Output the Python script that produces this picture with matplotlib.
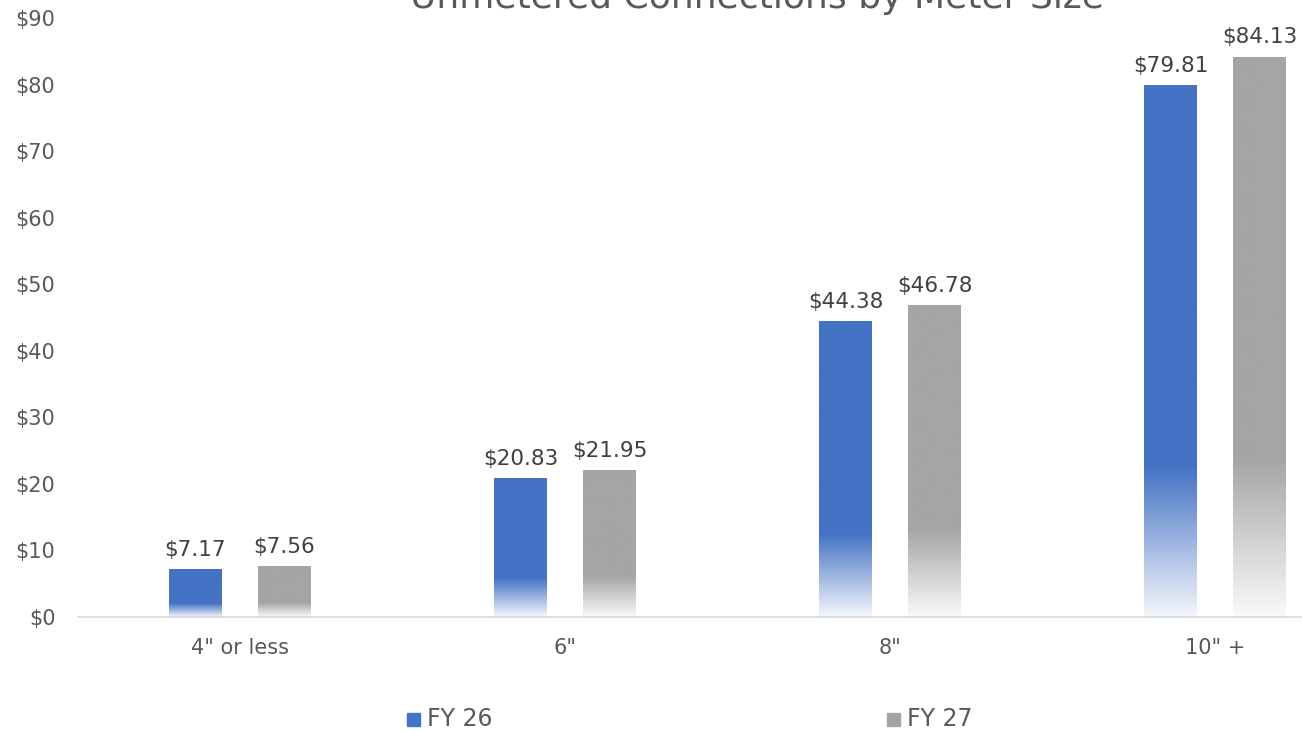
import numpy as np
import matplotlib
matplotlib.use('Agg')
from matplotlib import pyplot as plt
from matplotlib.colors import to_rgb

plt.rcParams['font.family'] = ['DejaVu Sans']

categories = ['4" or less', '6"', '8"', '10" +']
fy26 = [7.17, 20.83, 44.38, 79.81]
fy27 = [7.56, 21.95, 46.78, 84.13]
series_names = ['FY 26', 'FY 27']
colors = ['#4472C4', '#A5A5A5']
yticks = [0, 10, 20, 30, 40, 50, 60, 70, 80, 90]

fig = plt.figure(figsize=(13.02, 7.33), dpi=100)
fig.patch.set_facecolor('white')
ax = fig.add_axes([77.5 / 1302, 116 / 733, 1 - 77.5 / 1302, (617 - 18) / 733])

x = np.arange(len(categories))
offset = 0.137
width = 0.163


def gradient_bars(xpos, vals, color):
    bars = ax.bar(xpos, vals, width, color='none', edgecolor='none')
    c = np.array(to_rgb(color))
    t = np.linspace(0, 1, 256)[::-1]  # top row = 1
    a = np.clip(0.06 + t / 0.30, 0, 1)
    img = (1 - a)[:, None] * np.ones(3) + a[:, None] * c
    img = img[:, None, :]
    for b in bars:
        x0 = b.get_x()
        h = b.get_height()
        ax.imshow(img, extent=(x0, x0 + b.get_width(), 0, h), aspect='auto',
                  interpolation='bilinear', zorder=2)
    return bars


b1 = gradient_bars(x - offset, fy26, colors[0])
b2 = gradient_bars(x + offset, fy27, colors[1])

for xs, vals in [(x - offset, fy26), (x + offset, fy27)]:
    for xi, v in zip(xs, vals):
        ax.annotate('${:.2f}'.format(v), (xi, v), xytext=(0, 7), textcoords='offset points',
                    ha='center', va='bottom', fontsize=15.5, color='#404040')

ax.set_xlim(-0.5, (1302 - 77.5) / 325 - 0.5)
ax.set_ylim(0, 90)
ax.set_yticks(yticks)
ax.set_yticklabels(['${}'.format(t) for t in yticks])
ax.set_xticks(x)
ax.set_xticklabels(categories)
ax.tick_params(axis='both', length=0, labelsize=15, labelcolor='#595959')
ax.tick_params(axis='y', pad=16)
ax.tick_params(axis='x', pad=15)
for s in ['top', 'right', 'left']:
    ax.spines[s].set_visible(False)
ax.spines['bottom'].set_color('#d9d9d9')
ax.spines['bottom'].set_linewidth(1.2)
ax.grid(False)

# title sits partly above the canvas, as in the source image
fig.text(757 / 1302, 1 - 8 / 733, 'Unmetered Connections by Meter Size',
         ha='center', va='baseline', fontsize=26, color='#595959')

# legend
for name, col, xl in zip(series_names, colors, [407, 887]):
    fig.patches.append(plt.Rectangle((xl / 1302, 1 - 726 / 733), 13 / 1302, 13 / 733,
                                     transform=fig.transFigure, color=col, figure=fig))
    fig.text((xl + 20) / 1302, 1 - 719 / 733, name, ha='left', va='center',
             fontsize=17, color='#595959')

fig.savefig('out.png', dpi=100, facecolor='white')
